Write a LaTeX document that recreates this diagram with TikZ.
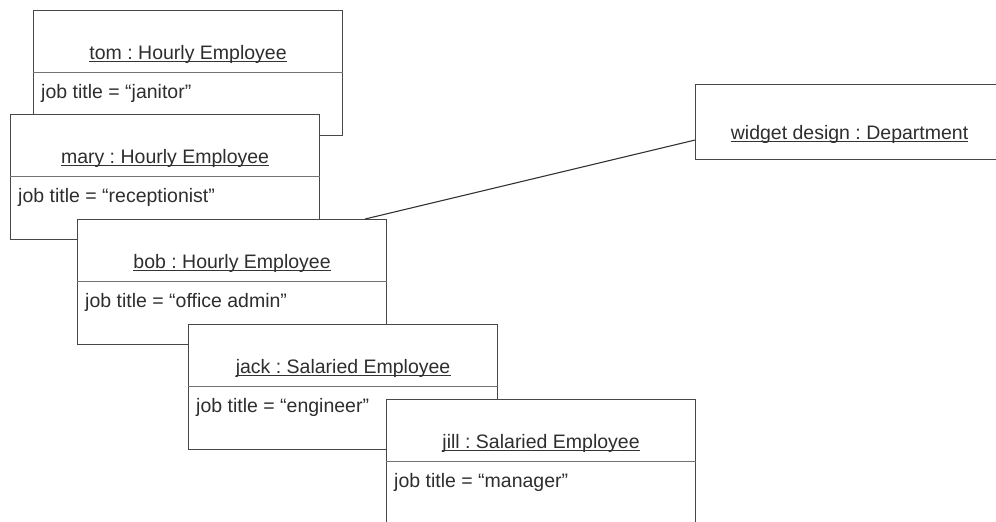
\documentclass[tikz,border=0pt]{standalone}
\usepackage{fontspec}
\setmainfont{Liberation Sans}
\usepackage{tikz}
\usetikzlibrary{positioning}
\frenchspacing

\begin{document}
\begin{tikzpicture}[
        x=1pt, y=-1pt,
        objbox/.style={
            draw=black!72,
            fill=white,
            line width=1.1pt,
            anchor=north west,
            inner sep=0pt,
            minimum width=309pt,
            minimum height=125pt
        },
        objname/.style={
            anchor=base,
            inner sep=0pt,
            text=black!82,
            font=\fontsize{19.5}{23}\selectfont
        },
        objattr/.style={
            anchor=base west,
            inner sep=0pt,
            text=black!82,
            font=\fontsize{19.5}{23}\selectfont
        },
        uline/.style={line width=0.9pt, draw=black!80},
        divider/.style={line width=0.8pt, draw=black!55},
        link/.style={line width=1.1pt, draw=black!80}
    ]
        \clip (0,0) rectangle (996,522);

        % employee objects, later ones lie on top
        \foreach \nm/\cls/\x/\y/\job in {
            tom/Hourly/33/10/janitor,
            mary/Hourly/10/114/receptionist,
            bob/Hourly/77/219/office admin,
            jack/Salaried/188/324/engineer,
            jill/Salaried/386/399/manager} {
            \node[objbox] (\nm) at (\x,\y) {};
            \node[objname] (\nm-name) at ([yshift=-49pt]\nm.north) {\nm\ : \cls\ Employee};
            \draw[uline] ([yshift=-2pt]\nm-name.base west) -- ([yshift=-2pt]\nm-name.base east);
            \draw[divider] ([yshift=-62pt]\nm.north west) -- ([yshift=-62pt]\nm.north east);
            \node[objattr] (\nm-attr) at ([xshift=8pt,yshift=-88pt]\nm.north west) {job title = “\job”};
        }

        \node[objbox, minimum width=308pt, minimum height=75pt] (widget) at (695,84) {};
        \node[objname] (widget-name) at ([yshift=-55pt]widget.north) {widget design : Department};
        \draw[uline] ([yshift=-2pt]widget-name.base west) -- ([yshift=-2pt]widget-name.base east);

        \draw[link] ([xshift=-22pt]bob.north east) -- ([yshift=-18pt]widget.west);
    \end{tikzpicture}
\end{document}
